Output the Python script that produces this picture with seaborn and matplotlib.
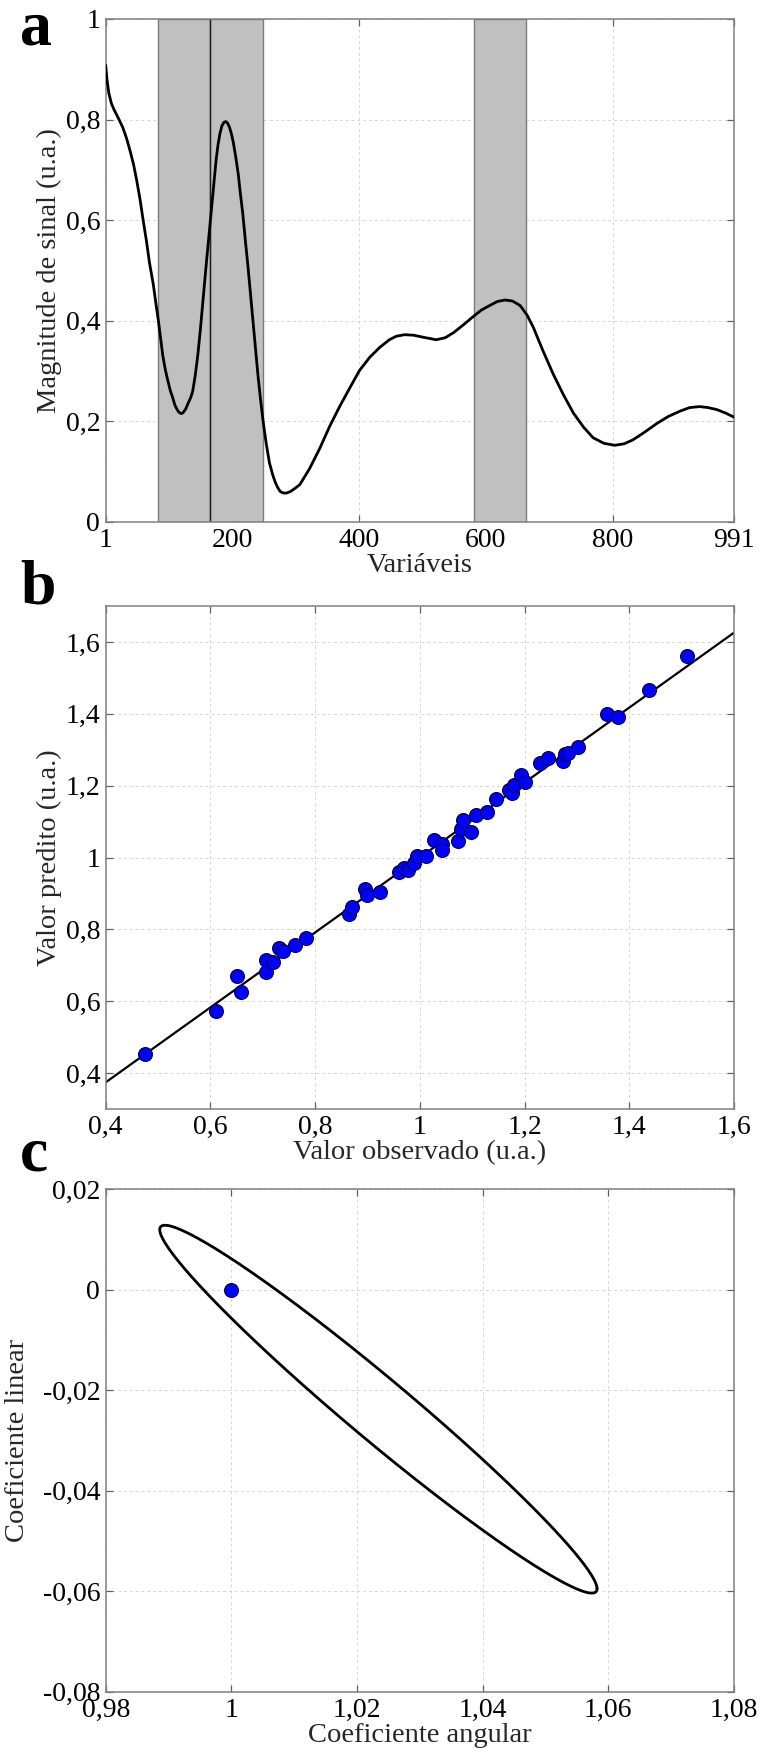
import numpy as np
import pandas as pd
import matplotlib
matplotlib.use("Agg")
import matplotlib.pyplot as plt
import seaborn as sns
from matplotlib.ticker import FuncFormatter, FixedLocator

# ---------------- data ----------------
# Panel a: spectrum (signal magnitude vs variable index)
var_idx = [1, 3, 6, 10, 14, 22, 28, 34, 40, 45, 50, 55, 60, 65, 70, 76, 80, 84, 88, 91,
           95, 99, 103, 107, 110, 114, 117, 120, 123, 127, 131, 135, 138, 142, 146, 150,
           154, 157, 160, 163, 166, 169, 172, 175, 178, 181, 184, 187, 190, 193, 196, 199,
           202, 206, 210, 213, 217, 221, 225, 229, 233, 237, 241, 245, 249, 254, 259, 264,
           268, 272, 276, 281, 286, 292, 299, 307, 322, 338, 354, 370, 386, 401, 417, 433,
           448, 459, 472, 486, 505, 522, 536, 549, 565, 580, 593, 606, 618, 630, 642,
           654, 665, 675, 690, 706, 722, 738, 754, 769, 786, 803, 818, 832, 850, 869,
           887, 906, 921, 937, 950, 964, 978, 991]
signal = [0.908, 0.880, 0.852, 0.832, 0.820, 0.800, 0.784, 0.762, 0.735, 0.710, 0.678,
          0.642, 0.600, 0.560, 0.515, 0.472, 0.435, 0.400, 0.360, 0.330, 0.302, 0.280,
          0.260, 0.245, 0.232, 0.222, 0.217, 0.215, 0.217, 0.224, 0.236, 0.247, 0.259,
          0.290, 0.330, 0.380, 0.436, 0.478, 0.520, 0.560, 0.600, 0.640, 0.680, 0.720,
          0.750, 0.772, 0.787, 0.794, 0.796, 0.793, 0.785, 0.772, 0.755, 0.725, 0.690,
          0.655, 0.613, 0.560, 0.510, 0.455, 0.400, 0.345, 0.290, 0.243, 0.200, 0.155,
          0.117, 0.094, 0.079, 0.068, 0.060, 0.057, 0.057, 0.060, 0.066, 0.074, 0.105,
          0.145, 0.190, 0.230, 0.267, 0.301, 0.327, 0.347, 0.362, 0.369, 0.372, 0.371,
          0.366, 0.362, 0.366, 0.376, 0.392, 0.408, 0.421, 0.430, 0.438, 0.441, 0.439,
          0.430, 0.411, 0.386, 0.340, 0.294, 0.253, 0.216, 0.188, 0.167, 0.156, 0.152,
          0.155, 0.163, 0.178, 0.195, 0.209, 0.220, 0.227, 0.229, 0.227, 0.223, 0.216,
          0.208]
selected_intervals = [(83, 166), (166, 249), (582, 663)]
interval_divider = 166

# Panel b: observed vs predicted
observed = [0.475, 0.611, 0.651, 0.659, 0.707, 0.707, 0.719, 0.731, 0.738, 0.761, 0.782,
            0.865, 0.870, 0.895, 0.900, 0.924, 0.961, 0.970, 0.978, 0.989, 0.995, 1.011,
            1.027, 1.043, 1.043, 1.073, 1.078, 1.082, 1.097, 1.107, 1.129, 1.146, 1.170,
            1.176, 1.180, 1.194, 1.200, 1.229, 1.244, 1.273, 1.277, 1.282, 1.303, 1.357,
            1.378, 1.437, 1.510]
predicted = [0.453, 0.572, 0.671, 0.625, 0.715, 0.681, 0.708, 0.748, 0.740, 0.757, 0.777,
             0.844, 0.861, 0.912, 0.897, 0.904, 0.960, 0.971, 0.966, 0.986, 1.005, 1.003,
             1.048, 1.037, 1.021, 1.045, 1.080, 1.104, 1.072, 1.117, 1.127, 1.163, 1.188,
             1.180, 1.202, 1.230, 1.210, 1.262, 1.276, 1.268, 1.287, 1.292, 1.308, 1.400,
             1.391, 1.467, 1.560]
fit_x = [0.4, 1.6]
fit_slope = 1.043
fit_intercept = -0.043

# Panel c: elliptical joint confidence region (slope, intercept)
ellipse_center = (1.0234, -0.0238)
ellipse_half_range = 0.0348      # half extent along slope axis
ellipse_shear = -1.026           # d(intercept)/d(slope) along major direction
ellipse_half_thick = 0.0080      # half thickness in intercept direction
ideal_point = (1.0, 0.0)

# ---------------- style ----------------
sns.set_theme(style="white")
plt.rcParams["font.family"] = ["Liberation Serif", "DejaVu Serif"]

TICK_FS = 20
LABEL_FS = 20.5


def comma_fmt(v, pos=None):
    if abs(v) < 1e-9:
        return "0"
    s = f"{v:.2f}".rstrip("0").rstrip(".")
    return s.replace(".", ",")


def style(ax):
    for s in ax.spines.values():
        s.set_visible(True)
        s.set_color("#808080")
        s.set_linewidth(1.1)
    ax.tick_params(direction="in", length=5, width=0.9, color="#606060",
                   top=True, right=True, bottom=True, left=True,
                   labelsize=TICK_FS, labelcolor="black")
    ax.tick_params(axis="y", pad=4)
    ax.tick_params(axis="x", pad=4.5)
    ax.grid(True, color="#d6d6d6", linestyle=(0, (3, 3)), linewidth=0.7)
    ax.set_axisbelow(True)


fig = plt.figure(figsize=(7.62, 17.6), dpi=100)
W, H = 762, 1760
L, R = 105.7, 734.0


def add_axes(top, bottom):
    return fig.add_axes([L / W, 1 - bottom / H, (R - L) / W, (bottom - top) / H])


# ---------------- panel a ----------------
ax1 = add_axes(19, 521.7)
for a0, a1 in selected_intervals:
    ax1.axvspan(a0, a1, facecolor="#c0c0c0", edgecolor="#7a7a7a", linewidth=1.0, zorder=1)
ax1.axvline(interval_divider, color="#202020", linewidth=1.0, zorder=2)
df_a = pd.DataFrame({"x": var_idx, "y": signal})
sns.lineplot(data=df_a, x="x", y="y", ax=ax1, color="black", linewidth=2.0, zorder=3)
ax1.set_xlim(1, 991)
ax1.set_ylim(0, 1)
ax1.xaxis.set_major_locator(FixedLocator([1, 200, 400, 600, 800, 991]))
ax1.yaxis.set_major_locator(FixedLocator([0, 0.2, 0.4, 0.6, 0.8, 1.0]))
ax1.yaxis.set_major_formatter(FuncFormatter(comma_fmt))
style(ax1)
ax1.set_xlabel("Variáveis", fontsize=LABEL_FS, labelpad=0)
ax1.set_ylabel("Magnitude de sinal (u.a.)", fontsize=LABEL_FS)
ax1.yaxis.set_label_coords(-0.070, 0.5)

# ---------------- panel b ----------------
ax2 = add_axes(606, 1109)
df_b = pd.DataFrame({"obs": observed, "pred": predicted})
fit_y = [fit_slope * v + fit_intercept for v in fit_x]
df_fit = pd.DataFrame({"x": fit_x, "y": fit_y})
sns.lineplot(data=df_fit, x="x", y="y", ax=ax2, color="black", linewidth=1.6, zorder=2)
sns.scatterplot(data=df_b, x="obs", y="pred", ax=ax2, color="#0000ff", s=100,
                edgecolor="#00005a", linewidth=0.8, zorder=3)
ax2.set_xlim(0.4, 1.6)
ax2.set_ylim(0.3, 1.7)
ax2.xaxis.set_major_locator(FixedLocator([0.4, 0.6, 0.8, 1.0, 1.2, 1.4, 1.6]))
ax2.yaxis.set_major_locator(FixedLocator([0.4, 0.6, 0.8, 1.0, 1.2, 1.4, 1.6]))
ax2.xaxis.set_major_formatter(FuncFormatter(comma_fmt))
ax2.yaxis.set_major_formatter(FuncFormatter(comma_fmt))
style(ax2)
ax2.set_xlabel("Valor observado (u.a.)", fontsize=LABEL_FS, labelpad=0)
ax2.set_ylabel("Valor predito (u.a.)", fontsize=LABEL_FS)
ax2.yaxis.set_label_coords(-0.070, 0.5)

# ---------------- panel c ----------------
ax3 = add_axes(1189, 1691.7)
t = np.linspace(0, 2 * np.pi, 721)
ex = ellipse_center[0] + ellipse_half_range * np.cos(t)
ey = (ellipse_center[1] + ellipse_shear * ellipse_half_range * np.cos(t)
      + ellipse_half_thick * np.sin(t))
df_e = pd.DataFrame({"x": ex, "y": ey})
sns.lineplot(data=df_e, x="x", y="y", ax=ax3, sort=False, estimator=None,
             color="black", linewidth=2.0, zorder=2)
df_p = pd.DataFrame({"x": [ideal_point[0]], "y": [ideal_point[1]]})
sns.scatterplot(data=df_p, x="x", y="y", ax=ax3, color="#0000ff", s=100,
                edgecolor="#00005a", linewidth=0.8, zorder=3)
ax3.set_xlim(0.98, 1.08)
ax3.set_ylim(-0.08, 0.02)
ax3.xaxis.set_major_locator(FixedLocator([0.98, 1.0, 1.02, 1.04, 1.06, 1.08]))
ax3.yaxis.set_major_locator(FixedLocator([-0.08, -0.06, -0.04, -0.02, 0.0, 0.02]))
ax3.xaxis.set_major_formatter(FuncFormatter(comma_fmt))
ax3.yaxis.set_major_formatter(FuncFormatter(comma_fmt))
style(ax3)
ax3.set_xlabel("Coeficiente angular", fontsize=LABEL_FS, labelpad=0)
ax3.set_ylabel("Coeficiente linear", fontsize=LABEL_FS)
ax3.yaxis.set_label_coords(-0.120, 0.5)

# ---------------- panel letters ----------------
for letter, base_y in [("a", 44.5), ("b", 603), ("c", 1170)]:
    fig.text(20 / W, 1 - base_y / H, letter, fontsize=46, fontweight="bold",
             ha="left", va="baseline", color="black")

fig.savefig("out.png", dpi=100)
